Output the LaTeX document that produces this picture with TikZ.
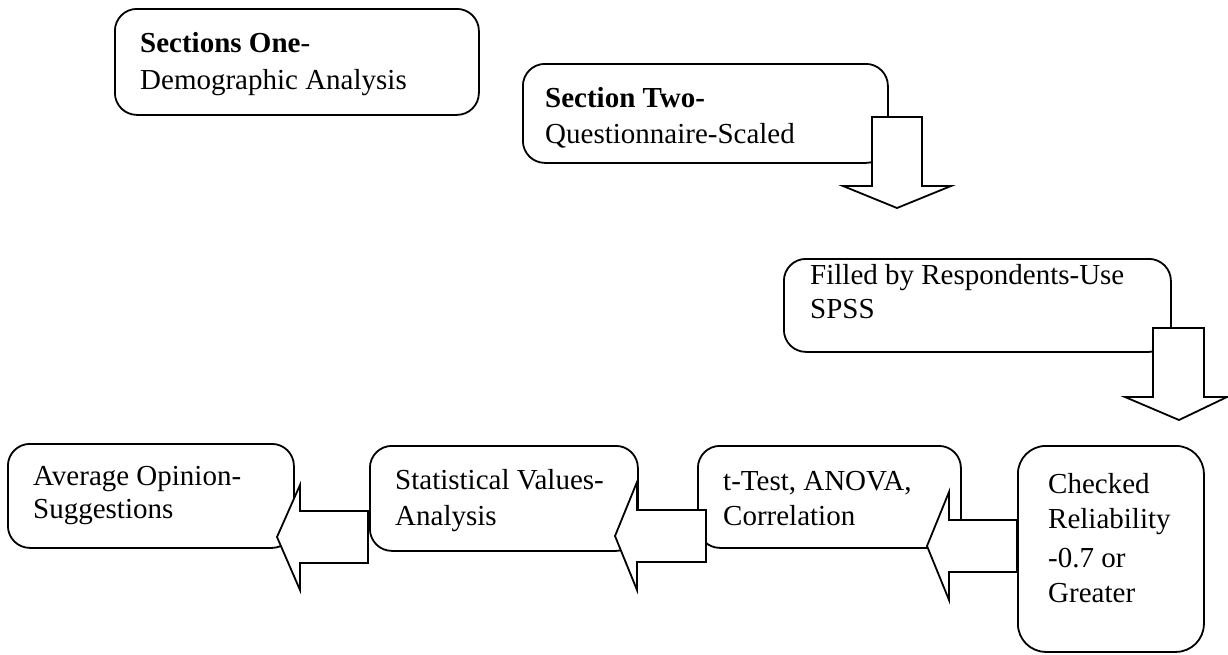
\documentclass[tikz,border=0pt]{standalone}
\usepackage{fontspec}
\setmainfont{Liberation Serif}
\begin{document}
\begin{tikzpicture}[x=1pt,y=-1pt,
  box/.style={draw, line width=1.8pt, rounded corners=22pt, fill=white, inner sep=0pt, anchor=north west},
  txt/.style={anchor=base west, inner sep=0pt, font=\fontsize{29}{35}\selectfont},
  blk/.style={draw, fill=white, line width=1.8pt, line join=miter}]
\useasboundingbox (0,0) rectangle (1228,654);
% boxes
\node[box, minimum width=364pt, minimum height=106pt] (b1) at (114,8) {};
\node[txt] (t1a) at (140,52) {\textbf{Sections One}-};
\node[txt] (t1b) at (140,89) {Demographic Analysis};

\node[box, minimum width=365pt, minimum height=99pt] (b2) at (522,63) {};
\node[txt] (t2a) at (545,107) {\textbf{Section Two-}};
\node[txt] (t2b) at (545,143) {Questionnaire-Scaled};

\node[box, minimum width=387pt, minimum height=93pt] (b3) at (783,258) {};
\node[txt] (t3a) at (810,284) {Filled by Respondents-Use};
\node[txt] (t3b) at (810,318) {SPSS};

\node[box, rounded corners=28pt, minimum width=186pt, minimum height=206pt] (b4) at (1017,445) {};
\node[txt] (t4a) at (1048,493) {Checked};
\node[txt] (t4b) at (1048,528) {Reliability};
\node[txt] (t4c) at (1048,567) {-0.7 or};
\node[txt] (t4d) at (1048,602) {Greater};

\node[box, minimum width=263pt, minimum height=102pt] (b5) at (697,445) {};
\node[txt] (t5a) at (723,490) {t-Test, ANOVA,};
\node[txt] (t5b) at (723,525) {Correlation};

\node[box, minimum width=268pt, minimum height=105pt] (b6) at (369,445) {};
\node[txt] (t6a) at (395,489) {Statistical Values-};
\node[txt] (t6b) at (395,525) {Analysis};

\node[box, minimum width=286pt, minimum height=104pt] (b7) at (7,443) {};
\node[txt] (t7a) at (33,485) {Average Opinion-};
\node[txt] (t7b) at (33,518) {Suggestions};

% block arrows
\draw[blk] (872,117) -- (922,117) -- (922,186) -- (951,186) -- (897,208) -- (843,186) -- (872,186) -- cycle;
\draw[blk] (1153,328) -- (1204,328) -- (1204,397) -- (1227,397) -- (1179,420) -- (1125,397) -- (1153,397) -- cycle;
\draw[blk] (1017,520) -- (949,520) -- (949,492) -- (927,546) -- (949,600) -- (949,572) -- (1017,572) -- cycle;
\draw[blk] (706,510) -- (637,510) -- (637,482) -- (615,536) -- (637,590) -- (637,562) -- (706,562) -- cycle;
\draw[blk] (368,511) -- (300,511) -- (300,485) -- (277,537) -- (300,590) -- (300,563) -- (368,563) -- cycle;
\end{tikzpicture}
\end{document}
